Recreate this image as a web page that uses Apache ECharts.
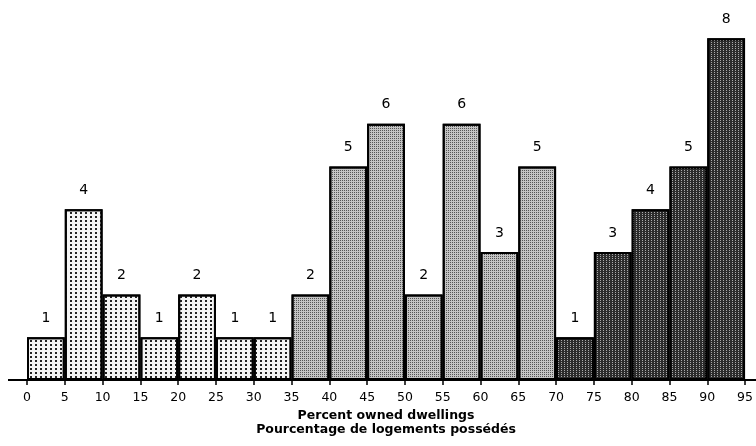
<!DOCTYPE html>
<html>
<head>
<meta charset="utf-8">
<script src="https://cdn.jsdelivr.net/npm/echarts@6/dist/echarts.min.js"></script>
<style>
html,body{margin:0;padding:0;background:#fff;}
#chart{width:756px;height:446px;}
</style>
</head>
<body>
<div id="chart"></div>
<script>
// Bin lower edges (percent owned dwellings), bin width 5
const binStarts = [0,5,10,15,20,25,30,35,40,45,50,55,60,65,70,75,80,85,90];
const counts    = [1,4,2,1,2,1,1,2,5,6,2,6,3,5,1,3,4,5,8];
// shading group: 0 = light (0-35), 1 = medium (35-70), 2 = dark (70-95)
const groups    = [0,0,0,0,0,0,0,1,1,1,1,1,1,1,2,2,2,2,2];
const tickLabels = ['0','5','10','15','20','25','30','35','40','45','50','55','60','65','70','75','80','85','90','95'];
const axisTitle = 'Percent owned dwellings\nPourcentage de logements possédés';

const styles = [
  {color:'#f4f4f4', decal:{symbol:'rect', symbolSize:1, color:'#222', dashArrayX:[[1.5,2.5]], dashArrayY:[1.5,2], rotation:0}},
  {color:'#c4c4c4', decal:{symbol:'rect', symbolSize:1, color:'#555', dashArrayX:[[1,1]], dashArrayY:[1,1], rotation:0}},
  {color:'#2c2c2c', decal:{symbol:'rect', symbolSize:1, color:'#aaaaaa', dashArrayX:[[1,2]], dashArrayY:[1,1], rotation:0}}
];

const data = counts.map((v,i)=>({
  value: v,
  itemStyle: {color: styles[groups[i]].color, decal: styles[groups[i]].decal, borderColor:'#000', borderWidth:2}
}));

const chart = echarts.init(document.getElementById('chart'));
const FONT = 'DejaVu Sans';
chart.setOption({
  animation:false,
  textStyle:{fontFamily:FONT},
  grid:{left:27, right:10, top:17, bottom:66},
  xAxis:[
    {type:'category', data: binStarts.map(String), show:false, boundaryGap:true},
    {type:'value', min:0, max:95, interval:5, position:'bottom',
     axisLine:{show:false}, splitLine:{show:false},
     axisTick:{show:true, length:5, inside:false, lineStyle:{color:'#000', width:1.5}},
     axisLabel:{color:'#000', fontSize:12.5, fontFamily:FONT, margin:11, formatter:(v)=>tickLabels[Math.round(v/5)]},
     name: axisTitle, nameLocation:'middle', nameGap:27,
     nameTextStyle:{color:'#000', fontSize:12.5, fontWeight:'bold', fontFamily:FONT, lineHeight:14}}
  ],
  yAxis:{type:'value', min:0, max:8.5, show:false},
  graphic:[
    {type:'line', shape:{x1:8, y1:380, x2:756, y2:380}, style:{stroke:'#000', lineWidth:2}, z:10}
  ],
  series:[{
    type:'bar', xAxisIndex:0, barWidth:'100%', barCategoryGap:'0%',
    data: data,
    label:{show:true, position:'top', distance:12, color:'#000', fontSize:14, fontFamily:FONT}
  }]
});
</script>
</body>
</html>
